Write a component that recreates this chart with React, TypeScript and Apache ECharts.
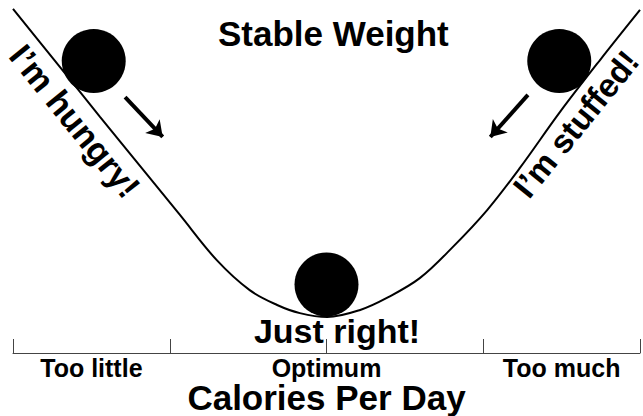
import React, { useEffect, useRef } from "react";
import * as echarts from "echarts";

// Curve of the weight "valley" (x: calories scale 0..8, y: height 0..100)
const curveX = [0, 0.6, 1.11, 1.62, 2.13, 2.6, 3.02, 3.37, 3.66, 4.01, 4.43, 4.77, 5.19, 5.61, 6.05, 6.47, 6.98, 7.49, 8.0];
const curveY = [97.5, 81.0, 66.9, 53.0, 39.1, 26.3, 17.8, 13.6, 11.3, 10.2, 12.2, 15.6, 21.2, 30.0, 40.5, 52.5, 68.3, 83.0, 97.2];

// Balls
const ballX = [1.03, 4.0, 6.97];
const ballY = [82.7, 19.4, 82.7];

// Arrows (start -> end)
const arrowStartX = [1.43, 6.57];
const arrowStartY = [72.5, 73.1];
const arrowEndX = [1.91, 6.09];
const arrowEndY = [61.2, 61.2];

// Axis
const tickValues = [0, 2, 4, 6, 8];
const labelValues = [1, 4, 7];
const labelTexts = ["Too little", "Optimum", "Too much"];

const FONT = "'Liberation Sans', Arial, Helvetica, sans-serif";

export default function App() {
  const ref = useRef<HTMLDivElement>(null);
  useEffect(() => {
    if (!ref.current) return;
    const chart = echarts.init(ref.current, undefined, { renderer: "svg" });
    const curve = curveX.map((x, i) => [x, curveY[i]]);
    const balls = ballX.map((x, i) => [x, ballY[i]]);
    const arrows = arrowStartX.map((x, i) => ({
      coords: [
        [x, arrowStartY[i]],
        [arrowEndX[i], arrowEndY[i]],
      ],
    }));
    chart.setOption({
      animation: false,
      backgroundColor: "#fff",
      title: {
        text: "Stable Weight",
        left: 213,
        top: 11,
        textStyle: { fontFamily: FONT, fontSize: 35, fontWeight: "bold", color: "#000" },
      },
      grid: { left: 13, right: 3, top: 0, bottom: 63, containLabel: false, outerBoundsMode: "none" },
      xAxis: {
        type: "value",
        min: 0,
        max: 8,
        interval: 1,
        splitLine: { show: false },
        axisLine: { show: true, lineStyle: { color: "#444", width: 1 } },
        axisTick: { show: true, inside: true, length: 14, customValues: tickValues, lineStyle: { color: "#444", width: 1 } },
        axisLabel: {
          customValues: labelValues,
          formatter: (v: number) => {
            const idx = labelValues.indexOf(Math.round(v));
            return idx >= 0 ? labelTexts[idx] : "";
          },
          margin: 2,
          fontFamily: FONT,
          fontSize: 25,
          fontWeight: "bold",
          color: "#000",
        },
        name: "Calories Per Day",
        nameLocation: "middle",
        nameGap: 29,
        nameMoveOverlap: false,
        nameTextStyle: { fontFamily: FONT, fontSize: 35, lineHeight: 30, fontWeight: "bold", color: "#000" },
      },
      yAxis: {
        type: "value",
        min: 0,
        max: 100,
        show: false,
      },
      series: [
        {
          type: "line",
          data: curve,
          smooth: 0.35,
          showSymbol: false,
          lineStyle: { color: "#000", width: 2 },
          z: 2,
        },
        {
          type: "scatter",
          data: balls,
          symbol: "circle",
          symbolSize: 64,
          itemStyle: { color: "#000", opacity: 1 },
          z: 3,
        },
        {
          type: "lines",
          coordinateSystem: "cartesian2d",
          data: arrows,
          symbol: ["none", "arrow"],
          symbolSize: 15,
          lineStyle: { color: "#000", width: 4, opacity: 1 },
          z: 3,
        },
      ],
      graphic: [
        {
          type: "text",
          x: 75,
          y: 121,
          rotation: -0.89,
          style: {
            text: "I’m hungry!",
            fontFamily: FONT,
            fontSize: 34,
            fontWeight: "bold",
            fill: "#000",
            textAlign: "center",
            textVerticalAlign: "middle",
          },
        },
        {
          type: "text",
          x: 576,
          y: 124,
          rotation: 0.89,
          style: {
            text: "I’m stuffed!",
            fontFamily: FONT,
            fontSize: 33,
            fontWeight: "bold",
            fill: "#000",
            textAlign: "center",
            textVerticalAlign: "middle",
          },
        },
        {
          type: "text",
          x: 337,
          y: 331,
          style: {
            text: "Just right!",
            fontFamily: FONT,
            fontSize: 34,
            fontWeight: "bold",
            fill: "#000",
            textAlign: "center",
            textVerticalAlign: "middle",
          },
        },
      ],
    });
    return () => chart.dispose();
  }, []);
  return <div ref={ref} style={{ width: 643, height: 416, position: "absolute", left: 0, top: 0 }} />;
}
